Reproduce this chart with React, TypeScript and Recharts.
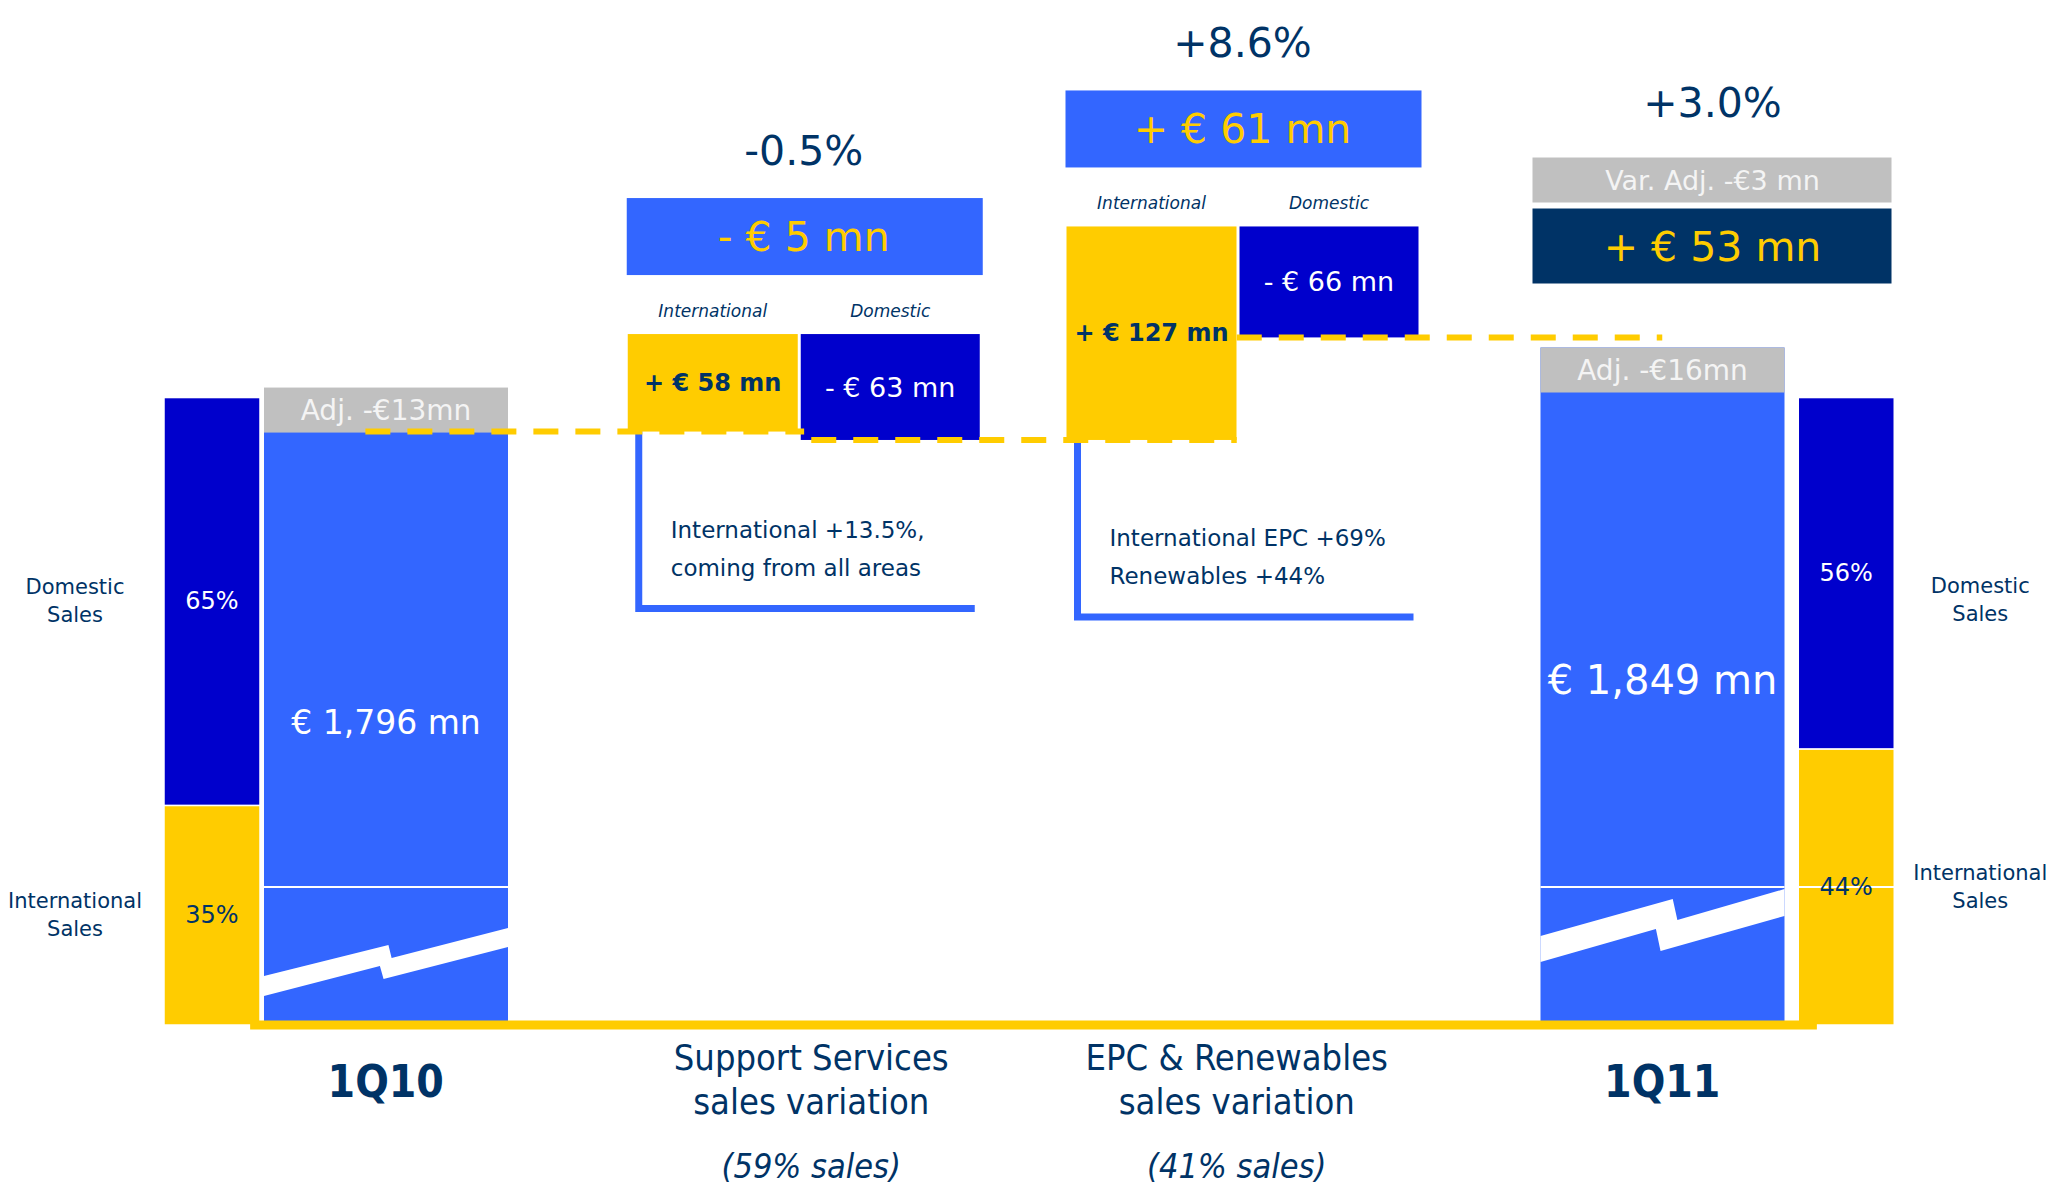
import React from 'react';
import { ComposedChart, Bar, XAxis, YAxis, ReferenceLine, LabelList } from 'recharts';

// values
const categories = ['1Q10', 'Support Services', 'EPC & Renewables', '1Q11'];
const categorySubtitles = ['', 'sales variation', 'sales variation', ''];
const salesWeight = ['', '(59% sales)', '(41% sales)', ''];

const reportedSales = [1796, null, null, 1849];
const perimeterAdj = [-13, null, null, -16];
const internationalChange = [null, 58, 127, null];
const domesticChange = [null, -63, -66, null];
const netChange = [null, -5, 61, 53];
const netChangePct = [null, -0.5, 8.6, 3.0];
const variationAdj = [null, null, null, -3];
const domesticShare = [65, null, null, 56];
const internationalShare = [35, null, null, 44];
const comments = [
  [],
  ['International +13.5%,', 'coming from all areas'],
  ['International EPC +69%', 'Renewables +44%'],
  [],
];

const BLUE = '#3366FF';
const DOM_BLUE = '#0000CC';
const YELLOW = '#FFCC00';
const GREY = '#C0C0C0';
const NAVY = '#003366';
const FONT = "'DejaVu Sans', Verdana, sans-serif";
const FONT_NARROW = "'DejaVu Sans Condensed', 'Liberation Sans Narrow', 'DejaVu Sans', sans-serif";

const VAL_MIN = 1430;
const VAL_MAX = 1960;
const INTL_W = 170;
const DOM_W = 179;
const GAP = 3;
const BREAK_OFFSET = 138;

// waterfall rows
let level = 0;
const connectorLevels: number[] = [];
const rows = categories.map((category, i) => {
  const row: any = { category };
  if (reportedSales[i] != null) {
    row.reported = reportedSales[i];
    row.adjustment = perimeterAdj[i];
    row.total = reportedSales[i]! + perimeterAdj[i]!;
    if (i === 0) level = row.total;
  }
  if (internationalChange[i] != null) {
    const peak = level + internationalChange[i]!;
    row.intl = [level, peak];
    row.dom = [peak + domesticChange[i]!, peak];
    row.intlValue = internationalChange[i];
    row.domValue = domesticChange[i];
    level = peak + domesticChange[i]!;
  }
  row.net = netChange[i];
  row.netPct = netChangePct[i];
  row.varAdj = variationAdj[i];
  if (domesticShare[i] != null) {
    const side = i === 0 ? 'L' : 'R';
    row['dom' + side] = domesticShare[i];
    row['intl' + side] = internationalShare[i];
  }
  if (i < categories.length - 1) connectorLevels.push(level);
  return row;
});

const fmtMoney = (v: number) => `${v < 0 ? '-' : '+'} € ${Math.abs(v)} mn`;
const fmtPct = (v: number) => `${v > 0 ? '+' : ''}${v.toFixed(1)}%`;
const fmtAdj = (v: number) => `Adj. ${v < 0 ? '-' : '+'}€${Math.abs(v)}mn`;

const ZIGZAG: Record<string, number[][]> = {
  '1Q10': [[0, 89], [0.51, 58], [0.523, 71], [1, 41], [1, 60], [0.49, 92], [0.475, 79], [0, 109]],
  '1Q11': [[0, 49], [0.542, 12], [0.561, 33], [1, 2], [1, 29], [0.492, 64], [0.473, 42], [0, 75]],
};

function TotalShape(props: any) {
  const { x, y, width, height, payload } = props;
  if (!height) return <g />;
  const i = categories.indexOf(payload.category);
  const bottom = y + height;
  const breakY = bottom - BREAK_OFFSET;
  const pts = (ZIGZAG[payload.category] || [])
    .map(([fx, dy]) => `${x + fx * width},${breakY + dy}`)
    .join(' ');
  const adjTop = i === 0 ? y - 44 : y;
  return (
    <g>
      <rect x={x} y={y} width={width} height={height} fill={BLUE} />
      <line x1={x} x2={x + width} y1={breakY} y2={breakY} stroke="#fff" strokeWidth={2} />
      <polygon points={pts} fill="#fff" />
      <rect x={x} y={adjTop} width={width} height={45} fill={GREY} />
      <text x={x + width / 2} y={adjTop + 23} textAnchor="middle" dominantBaseline="central"
        fill="#F4F4F4" fontSize={28} fontFamily={FONT}>{fmtAdj(payload.adjustment)}</text>
      {payload.varAdj != null && (
        <g>
          <text x={x + 172} y={y - 245} textAnchor="middle" dominantBaseline="central"
            fill={NAVY} fontSize={41} fontFamily={FONT}>{fmtPct(payload.netPct)}</text>
          <rect x={x - 8} y={y - 190} width={359} height={45} fill={GREY} />
          <text x={x + 172} y={y - 167} textAnchor="middle" dominantBaseline="central"
            fill="#F4F4F4" fontSize={27} fontFamily={FONT}>{`Var. Adj. ${payload.varAdj < 0 ? '-' : '+'}€${Math.abs(payload.varAdj)} mn`}</text>
          <rect x={x - 8} y={y - 139} width={359} height={75} fill={NAVY} />
          <text x={x + 172} y={y - 101} textAnchor="middle" dominantBaseline="central"
            fill={YELLOW} fontSize={41} fontFamily={FONT}>{fmtMoney(payload.net)}</text>
        </g>
      )}
    </g>
  );
}

function IntlShape(props: any) {
  const { x, y, width, height, payload } = props;
  if (!height) return <g />;
  const i = categories.indexOf(payload.category);
  const bottom = y + height;
  return (
    <g>
      <rect x={x} y={y} width={width} height={height} fill={YELLOW} />
      <path d={`M${x + 11},${bottom} V${bottom + 177} H${x + 347}`} stroke={BLUE} strokeWidth={7} fill="none" />
      {comments[i].map((t, k) => (
        <text key={k} x={x + 43} y={bottom + 98 + k * 38} dominantBaseline="central"
          fill={NAVY} fontSize={23} fontFamily={FONT}>{t}</text>
      ))}
    </g>
  );
}

function DomShape(props: any) {
  const { x, y, width, height, payload } = props;
  if (!height) return <g />;
  const left = x - GAP - INTL_W;
  const right = x + width;
  const mid = (left + right) / 2;
  const boxTop = y - 136;
  return (
    <g>
      <rect x={x} y={y} width={width} height={height} fill={DOM_BLUE} />
      <rect x={left - 1} y={boxTop} width={right - left + 4} height={77} fill={BLUE} />
      <text x={mid} y={boxTop + 39} textAnchor="middle" dominantBaseline="central"
        fill={YELLOW} fontSize={41} fontFamily={FONT}>{fmtMoney(payload.net)}</text>
      <text x={mid} y={y - 183} textAnchor="middle" dominantBaseline="central"
        fill={NAVY} fontSize={41} fontFamily={FONT}>{fmtPct(payload.netPct)}</text>
    </g>
  );
}

const shareShape = (fill: string, withBreak: boolean) => (props: any) => {
  const { x, y, width, height } = props;
  if (!height) return <g />;
  const bottom = y + height;
  return (
    <g>
      <rect x={x} y={y} width={width} height={height} fill={fill} stroke="#fff" strokeWidth={1.5} />
      {withBreak && (
        <line x1={x} x2={x + width} y1={bottom - BREAK_OFFSET} y2={bottom - BREAK_OFFSET} stroke="#fff" strokeWidth={2} />
      )}
    </g>
  );
};

const box = (p: any) => p.viewBox || p;

const shareLabel = (kind: 'dom' | 'intl', side: 'L' | 'R') => (p: any) => {
  const vb = box(p);
  if (p.value == null || !vb.height) return null;
  const cx = vb.x + vb.width / 2;
  const cy = vb.y + vb.height / 2;
  const sx = side === 'L' ? vb.x - 89 : vb.x + vb.width + 86;
  const sy = cy + (side === 'R' && kind === 'dom' ? 27 : 0);
  const name = kind === 'dom' ? 'Domestic' : 'International';
  return (
    <g>
      <text x={cx} y={cy} textAnchor="middle" dominantBaseline="central"
        fill={kind === 'dom' ? '#fff' : NAVY} fontSize={24} fontFamily={FONT}>{`${p.value}%`}</text>
      <text x={sx} y={sy - 14} textAnchor="middle" dominantBaseline="central"
        fill={NAVY} fontSize={21} fontFamily={FONT}>{name}</text>
      <text x={sx} y={sy + 14} textAnchor="middle" dominantBaseline="central"
        fill={NAVY} fontSize={21} fontFamily={FONT}>Sales</text>
    </g>
  );
};

const deltaLabel = (name: string, color: string, bold: boolean) => (p: any) => {
  const vb = box(p);
  if (p.value == null || !vb.height) return null;
  const cx = vb.x + vb.width / 2;
  return (
    <g>
      <text x={cx} y={vb.y + vb.height / 2} textAnchor="middle" dominantBaseline="central"
        fill={color} fontSize={bold ? 24 : 27} fontWeight={bold ? 'bold' : 'normal'} fontFamily={FONT}>
        {fmtMoney(p.value)}
      </text>
      <text x={cx} y={vb.y - 23} textAnchor="middle" dominantBaseline="central"
        fill={NAVY} fontSize={17} fontStyle="italic" fontFamily={FONT}>{name}</text>
    </g>
  );
};

const totalLabel = (p: any) => {
  const vb = box(p);
  if (p.value == null || !vb.height) return null;
  const first = p.index === 0;
  return (
    <text x={vb.x + vb.width / 2} y={vb.y + vb.height / 2 - 6} textAnchor="middle" dominantBaseline="central"
      fill="#fff" fontSize={first ? 33 : 40} fontFamily={FONT}>
      {`€ ${Number(p.value).toLocaleString('en-US')} mn`}
    </text>
  );
};

function renderTick(props: any) {
  const { x, y, payload } = props;
  const i = categories.indexOf(payload.value);
  if (categorySubtitles[i]) {
    return (
      <g fill={NAVY} fontFamily={FONT_NARROW} textAnchor="middle">
        <text x={x} y={y - 66} dominantBaseline="central" fontSize={36}>{payload.value}</text>
        <text x={x} y={y - 22} dominantBaseline="central" fontSize={36}>{categorySubtitles[i]}</text>
        <text x={x} y={y + 43} dominantBaseline="central" fontSize={34} fontStyle="italic">{salesWeight[i]}</text>
      </g>
    );
  }
  return (
    <text x={x} y={y - 42} textAnchor="middle" dominantBaseline="central" fill={NAVY}
      fontSize={44} fontWeight="bold" fontFamily={FONT_NARROW}>{payload.value}</text>
  );
}

const dash = { stroke: YELLOW, strokeWidth: 6, strokeDasharray: '25 17', ifOverflow: 'visible' as const };

export default function App() {
  return (
    <div style={{ position: 'absolute', left: 0, top: 0, width: 2071, height: 1187, background: '#fff' }}>
      <ComposedChart width={2071} height={1187} data={rows} barGap={GAP}
        margin={{ top: 134, right: 0, bottom: 8, left: 0 }}>
        <XAxis xAxisId="total" dataKey="category" padding={{ left: 173, right: 196 }} height={154}
          axisLine={false} tickLine={false} interval={0} tick={renderTick} />
        <XAxis xAxisId="delta" dataKey="category" hide padding={{ left: 146, right: 170 }} />
        <XAxis xAxisId="share" dataKey="category" hide padding={{ left: 6, right: 18 }} />
        <XAxis xAxisId="base" dataKey="category" hide padding={{ left: -11, right: -7 }} />
        <YAxis yAxisId="val" hide domain={[VAL_MIN, VAL_MAX]} />
        <YAxis yAxisId="pct" hide domain={[0, 142]} />

        <Bar xAxisId="share" yAxisId="pct" dataKey="intlL" stackId="L" barSize={96}
          isAnimationActive={false} shape={shareShape(YELLOW, false)}>
          <LabelList dataKey="intlL" content={shareLabel('intl', 'L')} />
        </Bar>
        <Bar xAxisId="share" yAxisId="pct" dataKey="domL" stackId="L" barSize={96}
          isAnimationActive={false} shape={shareShape(DOM_BLUE, false)}>
          <LabelList dataKey="domL" content={shareLabel('dom', 'L')} />
        </Bar>
        <Bar xAxisId="share" yAxisId="pct" dataKey="intlR" stackId="R" barSize={96}
          isAnimationActive={false} shape={shareShape(YELLOW, true)}>
          <LabelList dataKey="intlR" content={shareLabel('intl', 'R')} />
        </Bar>
        <Bar xAxisId="share" yAxisId="pct" dataKey="domR" stackId="R" barSize={96}
          isAnimationActive={false} shape={shareShape(DOM_BLUE, false)}>
          <LabelList dataKey="domR" content={shareLabel('dom', 'R')} />
        </Bar>

        <Bar xAxisId="total" yAxisId="val" dataKey="total" barSize={244}
          isAnimationActive={false} shape={TotalShape}>
          <LabelList dataKey="reported" content={totalLabel} />
        </Bar>
        <Bar xAxisId="delta" yAxisId="val" dataKey="intl" barSize={INTL_W}
          isAnimationActive={false} shape={IntlShape}>
          <LabelList dataKey="intlValue" content={deltaLabel('International', NAVY, true)} />
        </Bar>
        <Bar xAxisId="delta" yAxisId="val" dataKey="dom" barSize={DOM_W}
          isAnimationActive={false} shape={DomShape}>
          <LabelList dataKey="domValue" content={deltaLabel('Domestic', '#fff', false)} />
        </Bar>

        <ReferenceLine xAxisId="base" yAxisId="val" stroke={YELLOW} strokeWidth={9} ifOverflow="visible"
          segment={[{ x: categories[0], y: VAL_MIN }, { x: categories[3], y: VAL_MIN }]} />
        <ReferenceLine xAxisId="delta" yAxisId="val" {...dash}
          segment={[{ x: categories[0], y: connectorLevels[0] }, { x: categories[1], y: connectorLevels[0] }]} />
        <ReferenceLine xAxisId="total" yAxisId="val" {...dash}
          segment={[{ x: categories[1], y: connectorLevels[1] }, { x: categories[2], y: connectorLevels[1] }]} />
        <ReferenceLine xAxisId="total" yAxisId="val" {...dash}
          segment={[{ x: categories[2], y: connectorLevels[2] }, { x: categories[3], y: connectorLevels[2] }]} />
      </ComposedChart>
    </div>
  );
}
